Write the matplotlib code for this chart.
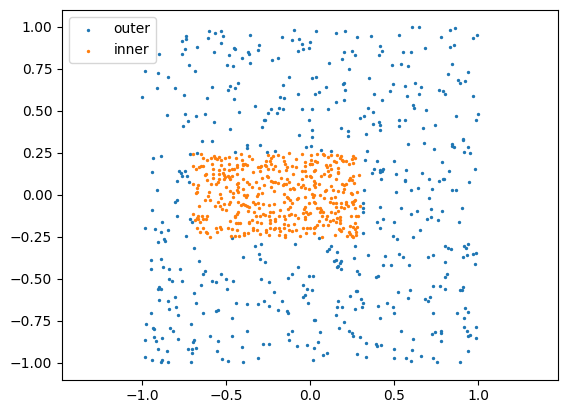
import matplotlib
matplotlib.use("Agg")
import matplotlib.pyplot as plt
import numpy as np

# points, (x, y)
outer_pts = [
    (-0.998,0.580),(-0.980,0.736),(-0.908,0.634),(-0.902,0.724),(-0.896,0.837),(-0.849,0.473),(-0.843,0.700),(-0.801,0.634),
    (-0.759,0.915),(-0.759,0.837),(-0.753,0.407),(-0.747,0.592),(-0.742,0.867),(-0.742,0.479),(-0.736,0.945),(-0.736,0.927),
    (-0.724,0.437),(-0.718,0.771),(-0.682,0.736),(-0.676,0.467),(-0.670,0.879),(-0.623,0.479),(-0.611,0.575),(-0.605,0.933),
    (-0.599,0.975),(-0.581,0.640),(-0.569,0.849),(-0.569,0.431),(-0.563,0.963),(-0.527,0.975),(-0.527,0.903),(-0.515,0.945),
    (-0.492,0.771),(-0.486,0.622),(-0.480,0.831),(-0.474,0.646),(-0.474,0.389),(-0.456,0.765),(-0.450,0.873),(-0.444,0.867),
    (-0.450,0.569),(-0.444,0.634),(-0.426,0.664),(-0.420,0.491),(-0.402,0.813),(-0.367,0.849),(-0.361,0.837),(-0.355,0.951),
    (-0.355,0.783),(-0.325,0.527),(-0.307,0.861),(-0.301,0.891),(-0.283,0.401),(-0.271,0.443),(-0.265,0.443),(-0.248,0.485),
    (-0.230,0.509),(-0.224,0.801),(-0.194,0.485),(-0.188,0.813),(-0.182,0.515),(-0.176,0.580),(-0.164,0.939),(-0.158,0.652),
    (-0.158,0.509),(-0.152,0.575),(-0.123,0.700),(-0.105,0.921),(-0.093,0.980),(-0.069,0.855),(-0.069,0.598),(-0.063,0.927),
    (-0.063,0.354),(-0.045,0.897),(-0.045,0.509),(-0.039,0.867),(-0.006,0.873),(-0.006,0.443),(0.000,0.909),
    (0.014,0.694),(0.038,0.975),(0.038,0.700),(0.032,0.598),(0.056,0.610),(0.014,0.509),(0.014,0.383),(0.014,0.342),
    (0.097,0.640),(0.109,0.509),(0.115,0.783),(0.157,0.963),(0.157,0.551),(0.187,0.395),(0.192,0.807),(0.198,0.658),
    (0.204,0.664),(0.204,0.849),(0.210,0.975),(0.210,0.622),(0.204,0.563),(0.228,0.377),(0.228,0.348),(0.234,0.748),
    (0.252,0.855),(0.270,0.831),(0.282,0.939),(0.300,0.455),(0.323,0.467),(0.335,0.360),(0.347,0.515),(0.353,0.694),
    (0.365,0.945),(0.377,0.491),(0.377,0.419),(0.383,0.598),(0.413,0.831),(0.413,0.431),(0.419,0.885),(0.419,0.413),
    (0.419,0.383),(0.431,0.855),(0.431,0.563),(0.478,0.616),(0.490,0.771),(0.496,0.658),(0.532,0.951),(0.532,0.443),
    (0.532,0.407),(0.544,0.777),(0.556,0.849),(0.567,0.646),(0.567,0.443),(0.579,0.586),(0.585,0.765),(0.603,0.849),
    (0.609,0.998),(0.615,0.533),(0.621,0.515),(0.627,0.664),(0.651,0.998),(0.651,0.598),(0.663,0.640),(0.675,0.395),
    (0.687,0.873),(0.692,0.503),(0.746,0.413),(0.770,0.622),(0.782,0.939),(0.794,0.616),(0.806,0.598),(0.823,0.718),
    (0.835,0.980),(0.835,0.879),(0.847,0.777),(0.859,0.891),(0.865,0.992),(0.871,0.467),(0.883,0.682),(0.895,0.664),
    (0.913,0.330),(0.925,0.676),(0.942,0.730),(0.972,0.933),(0.972,0.586),(0.990,0.443),(0.996,0.951),(0.998,0.479),
    (-0.640,0.319),(-0.581,0.319),(-0.932,0.222),(-0.884,0.233),(-0.938,0.138),(-0.777,0.144),(-0.765,0.132),(-0.742,0.144),
    (-0.759,0.114),(-0.730,0.114),(-0.789,0.084),(-0.718,0.078),(-0.908,0.030),(-0.789,-0.029),(-0.801,-0.041),(-0.938,-0.089),
    (-0.789,-0.125),(-0.712,-0.143),(-0.700,-0.161),(-0.878,-0.161),(-0.980,-0.196),(-0.920,-0.202),(-0.884,-0.220),(-0.843,-0.208),
    (-0.736,-0.244),(-0.867,-0.262),(-0.861,-0.274),(-0.902,-0.280),(-0.688,-0.316),(-0.712,0.245),(-0.670,0.251),(-0.444,0.257),
    (-0.373,0.299),(-0.373,0.281),(-0.295,0.299),(-0.254,0.257),(-0.206,0.263),(-0.021,0.287),(-0.462,-0.256),(-0.325,-0.304),
    (-0.289,-0.292),(-0.087,-0.292),
    (0.008,0.293),(0.067,0.269),(0.127,0.263),(0.341,0.263),(0.329,0.210),(0.401,0.204),(0.502,0.204),(0.585,0.305),
    (0.681,0.311),(0.740,0.275),(0.847,0.305),(0.847,0.293),(0.859,0.287),(0.913,0.325),(0.942,0.287),(0.919,0.257),
    (0.954,0.251),(0.788,0.198),(0.829,0.144),(0.984,0.156),(0.383,0.156),(0.371,0.132),(0.419,0.150),(0.437,0.156),
    (0.419,0.138),(0.431,0.144),(0.514,0.126),(0.573,0.150),(0.669,0.132),(0.425,0.096),(0.567,0.090),(0.567,0.084),
    (0.710,0.096),(0.770,0.084),(0.794,0.096),(0.800,0.096),(0.948,0.078),(0.323,0.030),(0.514,0.019),(0.603,0.030),
    (0.645,0.042),(0.728,0.036),(0.847,0.030),(0.871,0.030),(0.710,-0.017),(0.317,-0.047),(0.317,-0.077),(0.317,-0.101),
    (0.419,-0.071),(0.544,-0.077),(0.639,-0.095),(0.603,-0.113),(0.722,-0.083),(0.788,-0.095),(0.907,-0.077),(0.437,-0.143),
    (0.401,-0.161),(0.502,-0.161),(0.698,-0.143),(0.722,-0.131),(0.764,-0.149),(0.889,-0.161),(0.419,-0.196),(0.657,-0.208),
    (0.317,-0.226),(0.496,-0.244),(0.520,-0.262),(0.615,-0.250),(0.056,-0.256),(0.127,-0.304),(0.115,-0.322),(0.270,-0.304),
    (0.806,-0.304),(0.823,-0.316),(0.841,-0.322),(0.919,-0.304),(0.931,-0.316),(0.942,-0.292),
    (-0.944,-0.387),(-0.884,-0.381),(-0.944,-0.440),(-0.873,-0.429),(-0.837,-0.440),(-0.771,-0.440),(-0.658,-0.393),(-0.623,-0.452),
    (-0.634,-0.470),(-0.527,-0.470),(-0.396,-0.369),(-0.301,-0.351),(-0.295,-0.381),(-0.265,-0.399),(-0.069,-0.429),(-0.105,-0.470),
    (-0.129,-0.494),(-0.004,-0.482),(-0.837,-0.500),(-0.819,-0.512),(-0.759,-0.512),(-0.581,-0.512),(-0.557,-0.518),(-0.498,-0.500),
    (-0.456,-0.512),(-0.289,-0.500),(-0.242,-0.518),(-0.646,-0.536),(-0.039,-0.536),(-0.896,-0.548),(-0.902,-0.560),(-0.884,-0.560),
    (-0.492,-0.560),(-0.015,-0.560),(-0.688,-0.584),(-0.212,-0.578),(-0.027,-0.596),(-0.039,-0.608),(-0.801,-0.608),(-0.896,-0.626),
    (-0.843,-0.632),(-0.676,-0.643),(-0.438,-0.643),(-0.373,-0.649),(-0.307,-0.649),(-0.271,-0.632),(-0.164,-0.632),(-0.009,-0.643),
    (-0.795,-0.667),(-0.242,-0.661),(-0.837,-0.679),(-0.188,-0.685),(-0.545,-0.685),(-0.557,-0.691),(-0.134,-0.691),(-0.129,-0.703),
    (-0.944,-0.703),(-0.634,-0.703),(-0.783,-0.715),(-0.462,-0.733),(-0.974,-0.769),(-0.706,-0.769),(-0.932,-0.793),(-0.926,-0.799),
    (-0.831,-0.793),(-0.813,-0.811),(-0.373,-0.811),(-0.105,-0.811),(-0.129,-0.829),(-0.593,-0.840),(-0.462,-0.840),(-0.926,-0.846),
    (-0.878,-0.852),(-0.783,-0.858),(-0.980,-0.864),(-0.914,-0.870),(-0.688,-0.864),(-0.694,-0.876),(-0.545,-0.870),(-0.123,-0.864),
    (-0.277,-0.888),(-0.242,-0.888),(-0.015,-0.894),(-0.075,-0.900),(-0.402,-0.906),(-0.902,-0.918),(-0.724,-0.918),(-0.700,-0.918),
    (-0.676,-0.912),(-0.849,-0.930),(-0.551,-0.930),(-0.700,-0.942),(-0.980,-0.966),(-0.938,-0.984),(-0.878,-0.984),(-0.521,-0.978),
    (-0.307,-0.972),(-0.486,-0.990),(-0.706,-0.996),(-0.884,-0.998),(-0.843,-0.998),(-0.396,-0.998),
    (0.103,-0.333),(0.163,-0.339),(0.264,-0.375),(0.347,-0.357),(0.448,-0.363),(0.532,-0.351),(0.556,-0.369),(0.704,-0.369),
    (0.734,-0.357),(0.913,-0.369),(0.937,-0.357),(0.972,-0.351),(0.990,-0.345),(0.145,-0.393),(0.157,-0.387),(0.187,-0.393),
    (0.181,-0.405),(0.169,-0.423),(0.163,-0.429),(0.187,-0.440),(0.437,-0.417),(0.484,-0.417),(0.591,-0.417),(0.806,-0.399),
    (0.984,-0.411),(0.282,-0.452),(0.294,-0.470),(0.395,-0.488),(0.407,-0.482),(0.817,-0.470),(0.806,-0.488),(0.020,-0.482),
    (0.014,-0.566),(0.734,-0.542),(0.776,-0.542),(0.913,-0.548),(0.806,-0.560),(0.895,-0.566),(0.907,-0.566),(0.276,-0.572),
    (0.282,-0.572),(0.526,-0.578),(0.597,-0.566),(0.240,-0.602),(0.306,-0.620),(0.585,-0.614),(0.716,-0.608),(0.687,-0.620),
    (0.704,-0.632),(0.169,-0.632),(0.317,-0.643),(0.460,-0.643),(0.163,-0.667),(0.192,-0.667),(0.312,-0.667),(0.407,-0.661),
    (0.496,-0.667),(0.925,-0.673),(0.270,-0.679),(0.502,-0.703),(0.734,-0.703),(0.877,-0.703),(0.942,-0.697),(0.157,-0.715),
    (0.419,-0.733),(0.919,-0.733),(0.026,-0.745),(0.032,-0.745),(0.204,-0.757),(0.175,-0.793),(0.919,-0.787),(0.990,-0.787),
    (0.062,-0.817),(0.234,-0.811),(0.252,-0.823),(0.258,-0.840),(0.300,-0.846),(0.544,-0.811),(0.728,-0.829),(0.746,-0.817),
    (0.782,-0.811),(0.782,-0.823),(0.937,-0.811),(0.942,-0.840),(0.954,-0.834),(0.990,-0.852),(0.615,-0.858),(0.782,-0.870),
    (0.050,-0.876),(0.335,-0.882),(0.395,-0.888),(0.401,-0.900),(0.425,-0.894),(0.026,-0.912),(0.502,-0.918),(0.609,-0.924),
    (0.942,-0.930),(0.103,-0.942),(0.079,-0.954),(0.282,-0.948),(0.335,-0.966),(0.502,-0.972),(0.573,-0.972),(0.663,-0.960),
    (0.734,-0.972),(0.020,-0.984),(0.603,-0.990),(0.758,-0.998),(0.895,-0.998),
]

inner_pts = [
    (-0.694,0.245),(-0.646,0.245),(-0.634,0.221),(-0.611,0.210),(-0.587,0.221),(-0.569,0.233),(-0.563,0.221),(-0.551,0.215),
    (-0.539,0.227),(-0.527,0.210),(-0.504,0.221),(-0.480,0.227),(-0.438,0.221),(-0.408,0.245),(-0.402,0.210),(-0.361,0.233),
    (-0.343,0.215),(-0.248,0.239),(-0.218,0.233),(-0.158,0.227),(-0.123,0.251),(-0.045,0.245),(-0.188,0.239),(-0.230,0.221),
    (-0.152,0.204),(-0.081,0.215),(-0.027,0.198),(-0.259,0.204),(-0.236,0.204),(-0.396,0.186),
    (-0.694,0.174),(-0.676,0.156),(-0.658,0.168),(-0.646,0.174),(-0.634,0.174),(-0.581,0.186),(-0.527,0.180),(-0.480,0.186),
    (-0.432,0.180),(-0.432,0.168),(-0.385,0.186),(-0.396,0.180),(-0.373,0.180),(-0.295,0.168),(-0.307,0.168),(-0.265,0.180),
    (-0.259,0.174),(-0.230,0.186),(-0.206,0.174),(-0.146,0.186),(-0.134,0.168),(-0.105,0.174),(-0.081,0.168),(-0.027,0.174),
    (-0.140,0.150),(-0.182,0.144),(-0.295,0.144),(-0.218,0.156),(-0.248,0.156),(-0.289,0.174),(-0.402,0.156),(-0.480,0.150),
    (-0.539,0.150),(-0.575,0.156),(-0.510,0.156),(-0.515,0.132),(-0.539,0.126),(-0.575,0.126),(-0.462,0.156),(-0.450,0.156),
    (-0.045,0.144),(-0.027,0.144),(0.002,0.186),
    (-0.617,0.126),(-0.623,0.120),(-0.510,0.120),(-0.504,0.108),(-0.486,0.114),(-0.480,0.108),(-0.462,0.114),(-0.432,0.126),
    (-0.337,0.138),(-0.254,0.114),(-0.248,0.108),(-0.170,0.102),(-0.099,0.126),(-0.134,0.096),(-0.021,0.114),(-0.575,0.102),
    (-0.539,0.096),(-0.611,0.090),(-0.510,0.096),(-0.474,0.096),(-0.396,0.096),(-0.373,0.078),(-0.361,0.066),(-0.319,0.078),
    (-0.230,0.084),(-0.206,0.078),(-0.218,0.078),(-0.152,0.066),(-0.123,0.078),(-0.045,0.096),(-0.069,0.066),(-0.587,0.066),
    (-0.545,0.078),(-0.557,0.066),(-0.694,0.066),(-0.664,0.060),(-0.432,0.066),(-0.188,0.072),(-0.283,0.102),(-0.426,0.072),
    (-0.670,0.042),(-0.670,0.019),(-0.676,0.013),(-0.498,0.048),(-0.474,0.025),(-0.426,0.048),(-0.432,0.030),(-0.396,0.036),
    (-0.343,0.048),(-0.301,0.042),(-0.271,0.060),(-0.158,0.060),(-0.099,0.042),(-0.093,0.036),(-0.051,0.048),(-0.039,0.060),
    (-0.027,0.042),(-0.140,0.066),(-0.230,0.048),(-0.212,0.025),(-0.283,0.013),(-0.307,0.007),(-0.373,0.001),(-0.533,0.007),
    (-0.599,0.019),(-0.605,-0.005),(-0.623,-0.029),(-0.593,-0.029),(-0.152,0.007),(-0.117,0.036),(-0.004,0.036),(-0.390,0.001),
    (-0.426,0.019),(-0.456,0.013),
    (-0.527,-0.017),(-0.456,-0.011),(-0.545,-0.041),(-0.474,-0.041),(-0.480,-0.053),(-0.658,-0.065),(-0.563,-0.065),(-0.533,-0.065),
    (-0.510,-0.053),(-0.408,-0.059),(-0.396,-0.053),(-0.385,-0.059),(-0.373,-0.065),(-0.361,-0.071),(-0.337,-0.041),(-0.325,-0.053),
    (-0.307,-0.047),(-0.301,-0.077),(-0.277,-0.053),(-0.242,-0.059),(-0.212,-0.053),(-0.152,-0.041),(-0.129,-0.017),(-0.117,-0.029),
    (-0.105,-0.047),(-0.075,-0.023),(-0.069,-0.017),(-0.027,-0.011),(-0.117,-0.071),(-0.027,-0.071),(-0.033,-0.083),(-0.004,-0.047),
    (-0.426,-0.041),(-0.379,-0.011),(-0.313,-0.005),(-0.134,-0.011),
    (-0.521,-0.083),(-0.498,-0.089),(-0.426,-0.101),(-0.432,-0.113),(-0.444,-0.125),(-0.444,-0.131),(-0.331,-0.101),(-0.319,-0.125),
    (-0.277,-0.113),(-0.265,-0.119),(-0.236,-0.101),(-0.218,-0.101),(-0.176,-0.089),(-0.129,-0.083),(-0.111,-0.113),(-0.123,-0.119),
    (-0.039,-0.107),(-0.021,-0.101),(-0.009,-0.113),(-0.027,-0.131),(-0.694,-0.113),(-0.664,-0.125),(-0.664,-0.143),(-0.640,-0.125),
    (-0.634,-0.143),(-0.617,-0.143),(-0.611,-0.125),(-0.670,-0.137),(-0.682,-0.149),(-0.652,-0.161),(-0.474,-0.155),(-0.343,-0.149),
    (-0.361,-0.161),(-0.236,-0.149),(-0.206,-0.143),(-0.182,-0.125),(-0.152,-0.125),(-0.087,-0.119),(-0.069,-0.137),(-0.027,-0.143),
    (-0.206,-0.155),(-0.295,-0.125),(-0.367,-0.095),(-0.242,-0.125),(-0.146,-0.143),
    (-0.438,-0.167),(-0.426,-0.167),(-0.414,-0.167),(-0.361,-0.167),(-0.313,-0.161),(-0.236,-0.167),(-0.152,-0.173),(-0.129,-0.179),
    (-0.093,-0.173),(-0.670,-0.196),(-0.634,-0.196),(-0.617,-0.220),(-0.611,-0.226),(-0.652,-0.220),(-0.593,-0.250),(-0.557,-0.196),
    (-0.533,-0.190),(-0.527,-0.202),(-0.551,-0.220),(-0.486,-0.196),(-0.462,-0.202),(-0.432,-0.208),(-0.444,-0.244),(-0.468,-0.244),
    (-0.420,-0.244),(-0.390,-0.226),(-0.390,-0.238),(-0.367,-0.226),(-0.337,-0.196),(-0.337,-0.208),(-0.313,-0.208),(-0.289,-0.167),
    (-0.259,-0.208),(-0.236,-0.196),(-0.259,-0.220),(-0.206,-0.196),(-0.182,-0.196),(-0.176,-0.214),(-0.152,-0.196),(-0.123,-0.208),
    (-0.105,-0.214),(-0.081,-0.208),(-0.057,-0.244),(-0.039,-0.196),(-0.015,-0.196),(-0.021,-0.226),(-0.146,-0.238),(-0.146,-0.250),
    (-0.182,-0.238),(-0.242,-0.238),(-0.295,-0.232),(-0.212,-0.202),
    (0.008,0.239),(0.044,0.245),(0.079,0.245),(0.085,0.239),(0.109,0.227),(0.127,0.239),(0.163,0.239),(0.187,0.233),
    (0.181,0.221),(0.258,0.233),(0.270,0.221),(0.252,0.215),(0.008,0.210),(0.032,0.204),(0.044,0.198),(0.014,0.186),
    (0.002,0.186),(0.145,0.204),(0.157,0.198),(0.192,0.210),(0.198,0.204),(0.216,0.204),(0.234,0.186),(0.258,0.192),
    (0.097,0.180),(0.121,0.180),(0.103,0.168),(0.127,0.156),(0.169,0.162),(0.026,0.144),(0.032,0.150),(0.109,0.144),
    (0.085,0.126),(0.121,0.120),(0.169,0.138),(0.169,0.132),(0.067,0.114),(0.002,0.114),(0.008,0.108),(0.115,0.114),
    (0.157,0.096),(0.294,0.120),(0.258,0.114),(0.240,0.102),(0.234,0.090),(0.252,0.090),(0.264,0.072),(0.026,0.084),
    (0.032,0.072),(0.056,0.066),(0.026,0.060),(0.192,0.066),(0.204,0.060),(0.216,0.066),(0.127,0.054),(0.032,0.048),
    (0.139,0.030),(0.169,0.025),(0.204,0.036),(0.198,0.019),(0.091,0.025),(0.097,0.030),(0.282,0.019),(0.246,0.013),
    (0.252,0.007),(0.014,0.007),(0.026,0.001),(0.020,-0.011),(0.062,0.001),(0.127,-0.017),(0.151,-0.011),(0.085,-0.017),
    (0.026,-0.041),(0.032,-0.047),(0.121,-0.041),(0.139,-0.047),(0.157,-0.047),(0.187,-0.047),(0.216,-0.041),(0.216,-0.053),
    (0.252,-0.041),(0.258,-0.053),(0.270,-0.029),(0.264,-0.035),(0.300,-0.065),(0.228,-0.065),(0.187,-0.071),(0.157,-0.071),
    (0.044,-0.077),(0.062,-0.077),(0.067,-0.089),(0.204,-0.077),(0.270,-0.077),(0.127,-0.101),(0.151,-0.107),(0.169,-0.095),
    (0.062,-0.101),(0.079,-0.101),(0.002,-0.107),(0.073,-0.125),(0.103,-0.125),(0.246,-0.125),(0.276,-0.125),(0.288,-0.125),
    (0.181,-0.131),(0.163,-0.137),(0.097,-0.143),(0.139,-0.149),(0.121,-0.155),(0.181,-0.149),(0.056,-0.155),(0.181,-0.167),
    (0.157,-0.161),(0.079,-0.179),(0.109,-0.179),(0.002,-0.196),(0.026,-0.196),(0.044,-0.179),(0.032,-0.190),(0.270,-0.167),
    (0.240,-0.184),(0.258,-0.190),(0.282,-0.190),(0.270,-0.202),(0.175,-0.202),(0.181,-0.208),(0.198,-0.196),(0.187,-0.214),
    (0.234,-0.220),(0.276,-0.220),(0.240,-0.232),(0.151,-0.238),(0.222,-0.244),(0.252,-0.244),(0.258,-0.250),(0.276,-0.238),
    (0.073,-0.250),(0.026,-0.226),
]

plt.rcdefaults()
fig = plt.figure(figsize=(5.68, 4.13), dpi=100)
ax = fig.add_axes([62/568, 33.4/413, 496/568, 369.6/413])

outer = np.array(outer_pts)
inner = np.array(inner_pts)
ax.scatter(outer[:, 0], outer[:, 1], s=2, label="outer")
ax.scatter(inner[:, 0], inner[:, 1], s=2, label="inner")

ax.set_xlim(-1.476, 1.476)
ax.set_ylim(-1.1, 1.1)
ax.legend(loc="upper left")

fig.savefig("out.png", dpi=100)
